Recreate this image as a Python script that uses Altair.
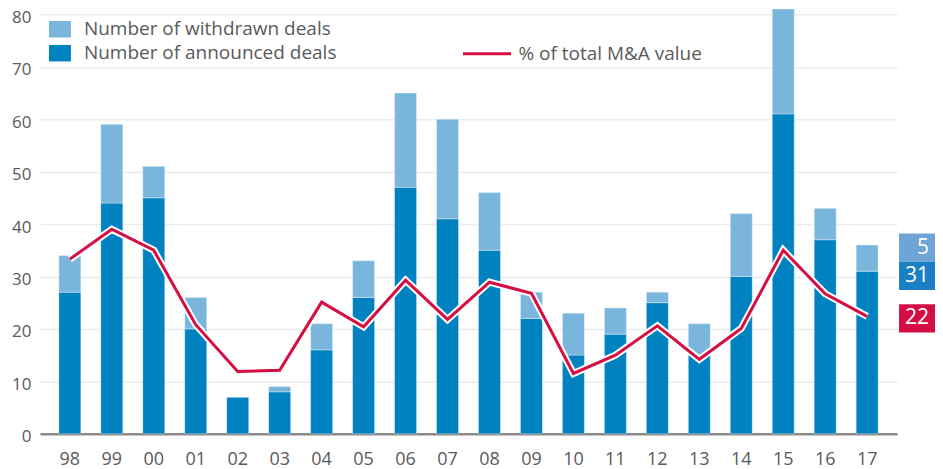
import altair as alt
import pandas as pd

# ---- data ----
years = ["98", "99", "00", "01", "02", "03", "04", "05", "06", "07",
         "08", "09", "10", "11", "12", "13", "14", "15", "16", "17"]
announced = [27, 44, 45, 20, 7, 8, 16, 26, 47, 41,
             35, 22, 15, 19, 25, 15, 30, 61, 37, 31]
withdrawn = [7, 15, 6, 6, 0, 1, 5, 7, 18, 19,
             11, 5, 8, 5, 2, 6, 12, 20, 6, 5]
pct_value = [33.3, 39.0, 35.0, 20.8, 11.9, 12.1, 25.1, 20.4, 29.3, 21.8,
             28.9, 26.8, 11.5, 15.0, 20.6, 14.2, 20.1, 35.0, 26.7, 22.4]

LBL_W = "Number of withdrawn deals"
LBL_A = "Number of announced deals"
LBL_P = "% of total M&A value"

FONT = "Open Sans"
GREY = "#5a5a5a"
C_LIGHT = "#7ab6dc"
C_DARK = "#0082c1"
C_RED = "#d50f41"

rows = []
for y, a, w in zip(years, announced, withdrawn):
    rows.append({"year": y, "type": LBL_A, "value": a, "ord": 0})
    rows.append({"year": y, "type": LBL_W, "value": w, "ord": 1})
bars_df = pd.DataFrame(rows)
line_df = pd.DataFrame({"year": years, "pct": pct_value, "series": LBL_P})

# end-of-series value tags (last year's figures)
tag_labels = [str(withdrawn[-1]), str(announced[-1]), str(int(pct_value[-1]))]
tag_centers = [35.5, 30.1, 22.0]  # layout: vertical placement of tags
tag_colors = ["#6fa4d7", "#1a80c3", "#d50f45"]
tag_df = pd.DataFrame({
    "label": tag_labels,
    "lo": [c - 2.7 for c in tag_centers],
    "hi": [c + 2.7 for c in tag_centers],
    "mid": tag_centers,
    "col": tag_colors,
})

xscale = alt.Scale(domain=years, paddingInner=0.476, paddingOuter=0.45)
yscale = alt.Scale(domain=[0, 80], nice=False)

x_enc = alt.X("year:N", scale=xscale, sort=years,
              axis=alt.Axis(title=None, labelAngle=0, ticks=False,
                            domainColor="#8a8a8a", domainWidth=2.5,
                            labelPadding=17, labelFontSize=18,
                            labelColor=GREY, labelFont=FONT))

bars = alt.Chart(bars_df).mark_bar(stroke="white", strokeOpacity=0.35, strokeWidth=1).encode(
    x=x_enc,
    y=alt.Y("sum(value):Q", scale=yscale, stack="zero",
            axis=alt.Axis(title=None, values=list(range(0, 81, 10)),
                          ticks=False, domain=False, gridColor="#ececec",
                          gridWidth=1.5, labelPadding=9, labelFontSize=17,
                          labelOffset=3,
                          labelColor=GREY, labelFont=FONT)),
    color=alt.Color("type:N",
                    scale=alt.Scale(domain=[LBL_W, LBL_A], range=[C_LIGHT, C_DARK]),
                    legend=alt.Legend(orient="none", legendX=9, legendY=4,
                                      title=None, direction="vertical",
                                      symbolType="M-1,-0.75H1V0.75H-1Z",
                                      symbolSize=484, symbolStrokeWidth=0,
                                      symbolOpacity=1, labelLimit=500,
                                      labelFontSize=19, labelColor=GREY,
                                      labelFont=FONT, labelOffset=13,
                                      rowPadding=3)),
    order=alt.Order("ord:Q"),
)

casing = alt.Chart(line_df).mark_line(color="white", strokeWidth=7).encode(
    x=alt.X("year:N", scale=xscale, sort=years),
    y=alt.Y("pct:Q", scale=yscale),
)

line = alt.Chart(line_df).mark_line(strokeWidth=3).encode(
    x=alt.X("year:N", scale=xscale, sort=years),
    y=alt.Y("pct:Q", scale=yscale),
    stroke=alt.Stroke("series:N", scale=alt.Scale(domain=[LBL_P], range=[C_RED]),
                      legend=alt.Legend(orient="none", legendX=422, legendY=14,
                                        title=None, symbolType="stroke",
                                        symbolSize=2304, symbolStrokeWidth=3,
                                        labelLimit=500,
                                        labelFontSize=19, labelColor=GREY,
                                        labelFont=FONT, labelOffset=6)),
)

tag_boxes = alt.Chart(tag_df).mark_rect().encode(
    x=alt.value(860), x2=alt.value(896),
    y=alt.Y("hi:Q", scale=yscale), y2="lo:Q",
    color=alt.Color("col:N", scale=None, legend=None),
)
tag_text = alt.Chart(tag_df).mark_text(align="right", baseline="middle",
                                       color="white", fontSize=21, font=FONT).encode(
    x=alt.value(890),
    y=alt.Y("mid:Q", scale=yscale),
    text="label:N",
)

chart = alt.layer(bars, casing, line, tag_boxes, tag_text).resolve_scale(
    color="independent"
).properties(
    width=858, height=420,
    autosize=alt.AutoSizeParams(type="none"),
    padding={"left": 32, "top": 6, "right": 38, "bottom": 35},
).configure_view(stroke=None)

chart.save("out.html", embed_options={"renderer": "svg", "actions": False})
